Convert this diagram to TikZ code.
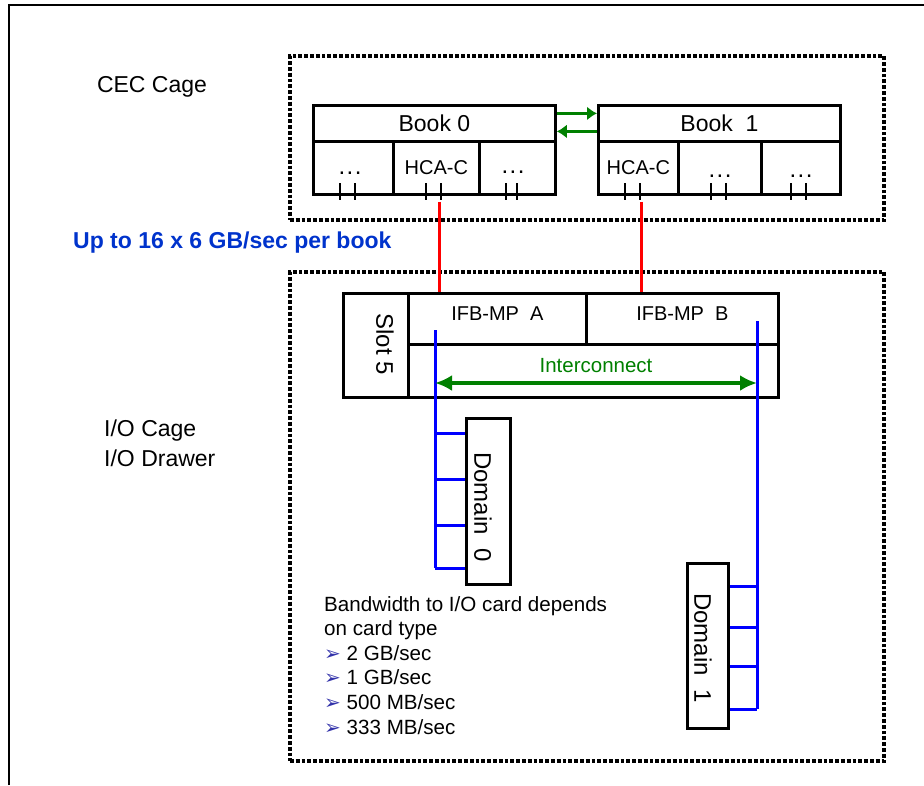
\documentclass[tikz,border=0pt]{standalone}
\usepackage{fontspec}
\setmainfont{Liberation Sans}
\newfontfamily\dejavu{DejaVu Sans}
\usepackage{xcolor}
\usetikzlibrary{arrows.meta,positioning}

\definecolor{icgreen}{RGB}{0,128,0}
\definecolor{busblue}{RGB}{0,0,255}
\definecolor{noteblue}{RGB}{0,51,204}
\definecolor{bulletblue}{RGB}{51,51,170}

\newcommand{\fsz}[2]{\fontsize{#1}{#2}\selectfont}
\newcommand{\bul}{{\dejavu\fsz{20}{20}\color{bulletblue}➢}\ }

\tikzset{
  box/.style={draw, line width=2.8pt, inner sep=0pt, anchor=north west},
  cage/.style={draw, line width=3.8pt, dash pattern=on 3.8pt off 2pt, inner sep=0pt, anchor=north west},
  txt/.style={inner sep=0pt},
  dots/.style={inner sep=0pt, anchor=base, font=\fsz{24}{24}},
  tick/.style={line width=2.8pt},
  hcalink/.style={red, line width=2.5pt},
  bus/.style={busblue, line width=3pt},
  bookarrow/.style={icgreen, line width=3.6pt, -{Latex[length=10pt,width=14pt]}},
  icarrow/.style={icgreen, line width=3.8pt, {Latex[length=17pt,width=16pt]}-{Latex[length=17pt,width=16pt]}},
}

\begin{document}
\begin{tikzpicture}[>=Latex, x=1pt, y=-1pt]
\useasboundingbox (0,0) rectangle (924,785);
\draw[line width=1.6pt] (9,785) -- (9,5) -- (924,5);

% cages
\node[cage, minimum width=594pt, minimum height=164pt] (cec) at (288,54) {};
\node[cage, minimum width=594pt, minimum height=489pt] (iocage) at (288,270) {};

\node[txt, anchor=base, font=\fsz{23}{28}] (ceclbl) at (152,92) {CEC Cage};
\node[txt, anchor=west, align=left, font=\fsz{23}{30}] (iolbl) at (104,443) {I/O Cage\\I/O Drawer};
\node[txt, anchor=base west, font=\bfseries\fsz{23}{28}, text=noteblue] (bwlbl) at (73,248) {Up to 16 x 6 GB/sec per book};

% books
\node[box, minimum width=242pt, minimum height=36pt, font=\fsz{23}{28}] (book0) at (312,104) {Book 0};
\node[box, minimum width=80pt, minimum height=53pt] (b0c1) at (312,140) {};
\node[box, minimum width=86pt, minimum height=53pt, font=\fsz{20}{24}] (b0hca) at (392,140) {HCA-C};
\node[box, minimum width=76pt, minimum height=53pt] (b0c3) at (478,140) {};

\node[box, minimum width=242pt, minimum height=36pt, font=\fsz{23}{28}] (book1) at (597,104) {Book\ \ 1};
\node[box, minimum width=80pt, minimum height=53pt, font=\fsz{20}{24}] (b1hca) at (597,140) {HCA-C};
\node[box, minimum width=83pt, minimum height=53pt] (b1c2) at (677,140) {};
\node[box, minimum width=79pt, minimum height=53pt] (b1c3) at (760,140) {};

\node[dots] (b0d1) at (350,174) {.\kern1.5pt.\kern1.5pt.};
\node[dots] (b0d3) at (513,173) {.\kern1.5pt.\kern1.5pt.};
\node[dots] (b1d2) at (720,177) {.\kern1.5pt.\kern1.5pt.};
\node[dots] (b1d3) at (801,177) {.\kern1.5pt.\kern1.5pt.};

\foreach \x in {340,355,426,441,506,517,625,640,711,726,791,806}
  \draw[tick] (\x,183) -- (\x,200);

\draw[bookarrow] ([yshift=10pt]book0.east) -- ([yshift=10pt]book1.west);
\draw[bookarrow] ([yshift=-8pt]book1.west) -- ([yshift=-8pt]book0.east);

% slot 5 card
\node[box, minimum width=65pt, minimum height=104pt] (slot5) at (342,292) {};
\node[box, minimum width=178pt, minimum height=51pt, text depth=11pt, font=\fsz{20}{24}] (ifbA) at (407,292) {IFB-MP\ \ A};
\node[box, minimum width=192pt, minimum height=51pt, text depth=11pt, font=\fsz{20}{24}] (ifbB) at (585,292) {IFB-MP\ \ B};
\node[box, minimum width=370pt, minimum height=53pt] (icrow) at (407,343) {};
\node[txt, rotate=-90, font=\fsz{24}{28}] (slotlbl) at (385,344) {Slot 5};
\node[txt, font=\fsz{20.5}{24}, text=icgreen] (iclbl) at (596,366) {Interconnect};

\draw[hcalink] ([shift={(3pt,-6pt)}]b0hca.south) -- ([xshift=3pt]b0hca.south |- ifbA.north);
\draw[hcalink] ([shift={(3pt,-6pt)}]b1hca.south) -- ([xshift=3pt]b1hca.south |- ifbB.north);

% domains
\node[box, minimum width=44pt, minimum height=166pt] (dom0) at (465,417) {};
\node[box, minimum width=41pt, minimum height=165pt] (dom1) at (686,562) {};
\node[txt, rotate=-90, font=\fsz{24}{28}] (dom0lbl) at (483,507) {Domain\ \ 0};
\node[txt, rotate=-90, font=\fsz{24}{28}] (dom1lbl) at (703,648) {Domain\ \ 1};

\coordinate (tapA) at (435,330);
\coordinate (tapB) at (757,321);
\draw[bus] (tapA) -- (tapA |- 0,568);
\draw[bus] (tapB) -- (tapB |- 0,709);
\foreach \y in {433,479,525,568}
  \draw[bus] (tapA |- 0,\y) -- (dom0.west |- 0,\y);
\foreach \y in {586,627,666,709}
  \draw[bus] (dom1.east |- 0,\y) -- (tapB |- 0,\y);
\draw[icarrow] (tapA |- 0,383) -- (tapB |- 0,383);

\node[txt, anchor=north west, align=left, font=\fsz{20.6}{24.6}] (bwnote) at (324,596)
  {Bandwidth to I/O card depends\\on card type\\\bul 2 GB/sec\\\bul 1 GB/sec\\\bul 500 MB/sec\\\bul 333 MB/sec};
\end{tikzpicture}
\end{document}
